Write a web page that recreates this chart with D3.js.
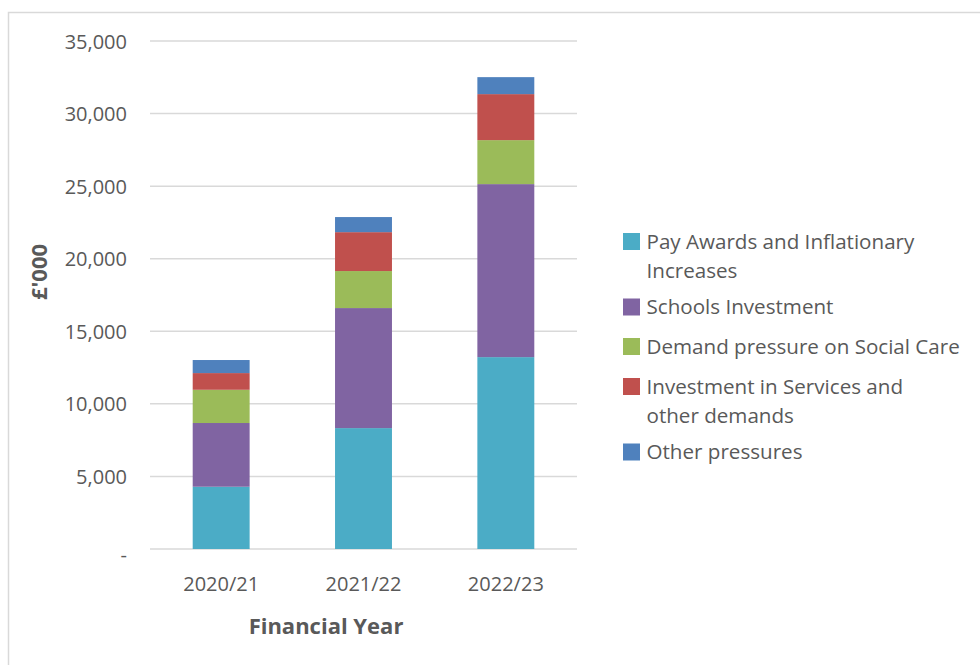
<!DOCTYPE html>
<html>
<head>
<meta charset="utf-8">
<script src="https://cdn.jsdelivr.net/npm/d3@7"></script>
<style>
  body { margin: 0; background: #fff; }
  text { font-family: "Open Sans", "Noto Sans", sans-serif; fill: #595959; }
</style>
</head>
<body>
<script>
// data (£'000)
var years = ["2020/21", "2021/22", "2022/23"];
var seriesNames = [
    "Pay Awards and Inflationary Increases",
    "Schools Investment",
    "Demand pressure on Social Care",
    "Investment in Services and other demands",
    "Other pressures"
];
var legendLines = [
    ["Pay Awards and Inflationary", "Increases"],
    ["Schools Investment"],
    ["Demand pressure on Social Care"],
    ["Investment in Services and", "other demands"],
    ["Other pressures"]
];
var payAwards = [4290, 8330, 13220];
var schools = [4390, 8270, 11920];
var socialCare = [2290, 2550, 3030];
var services = [1150, 2680, 3170];
var otherPressures = [900, 1040, 1170];
var yTicks = [0, 5000, 10000, 15000, 20000, 25000, 30000, 35000];
var colors = ["#4BACC6", "#8064A2", "#9BBB59", "#C0504D", "#4F81BD"];

// svg 边距
var margin = { top: 41, left: 150 },
    width = 427,
    height = 508;

var svg = d3.select("body").append("svg")
    .attr("width", 980)
    .attr("height", 665);

// 外框
svg.append("rect")
    .attr("x", 8.5).attr("y", 12.5)
    .attr("width", 1000).attr("height", 700)
    .attr("fill", "none")
    .attr("stroke", "#d9d9d9")
    .attr("stroke-width", 1.5);

var chart = svg.append("g")
    .attr("transform", "translate(" + margin.left + "," + margin.top + ")");

var x = d3.scaleBand()
    .domain(years)
    .range([0, width])
    .paddingInner(0.6)
    .paddingOuter(0.3);

var y = d3.scaleLinear()
    .domain([0, 35000])
    .range([height, 0]);

// 网格线
chart.append("g")
    .selectAll("line")
    .data(yTicks)
    .enter()
    .append("line")
    .attr("x1", 0)
    .attr("x2", width)
    .attr("y1", function (d) { return y(d); })
    .attr("y2", function (d) { return y(d); })
    .attr("stroke", "#d9d9d9")
    .attr("stroke-width", 1.5);

// y轴
var fmt = d3.format(",");
var yAxis = d3.axisLeft(y)
    .tickValues(yTicks)
    .tickSize(0)
    .tickPadding(23)
    .tickFormat(function (d) { return d === 0 ? "-" : fmt(d); });

var yG = chart.append("g").call(yAxis);
yG.select(".domain").remove();
yG.selectAll("text")
    .style("font-size", "20px")
    .attr("fill", "#595959")
    .attr("dy", function (d) { return d === 0 ? "0.6em" : "0.35em"; });

// x轴
var xAxis = d3.axisBottom(x).tickSize(0).tickPadding(28);
var xG = chart.append("g")
    .attr("transform", "translate(0," + height + ")")
    .call(xAxis);
xG.select(".domain").remove();
xG.selectAll("text")
    .style("font-size", "20px")
    .attr("fill", "#595959");

// 堆叠数据
var rows = years.map(function (yr, i) {
    return {
        year: yr,
        s0: payAwards[i], s1: schools[i], s2: socialCare[i],
        s3: services[i], s4: otherPressures[i]
    };
});
var stack = d3.stack().keys(["s0", "s1", "s2", "s3", "s4"]);
var layers = stack(rows);

chart.append("g")
    .selectAll("g")
    .data(layers)
    .enter()
    .append("g")
    .attr("fill", function (d, i) { return colors[i]; })
    .selectAll("rect")
    .data(function (d) { return d; })
    .enter()
    .append("rect")
    .attr("x", function (d) { return x(d.data.year); })
    .attr("width", x.bandwidth())
    .attr("y", function (d) { return y(d[1]); })
    .attr("height", function (d) { return y(d[0]) - y(d[1]); });

// 轴标题
svg.append("text")
    .attr("transform", "translate(47,272) rotate(-90)")
    .attr("text-anchor", "middle")
    .style("font-size", "22px")
    .style("font-weight", "bold")
    .text("£'000");

svg.append("text")
    .attr("x", 326)
    .attr("y", 634)
    .attr("text-anchor", "middle")
    .style("font-size", "22px")
    .style("font-weight", "bold")
    .text("Financial Year");

// 图例
var legendY = [241.5, 307, 346.5, 386.5, 452];
var legend = svg.append("g");
seriesNames.forEach(function (name, i) {
    var g = legend.append("g")
        .attr("transform", "translate(623," + legendY[i] + ")");
    g.append("rect")
        .attr("x", 0).attr("y", -8.5)
        .attr("width", 17).attr("height", 17)
        .attr("fill", colors[i]);
    legendLines[i].forEach(function (line, j) {
        g.append("text")
            .attr("x", 23.5)
            .attr("y", j * 29)
            .attr("dy", "0.35em")
            .style("font-size", "20.6px")
            .text(line);
    });
});
</script>
</body>
</html>
